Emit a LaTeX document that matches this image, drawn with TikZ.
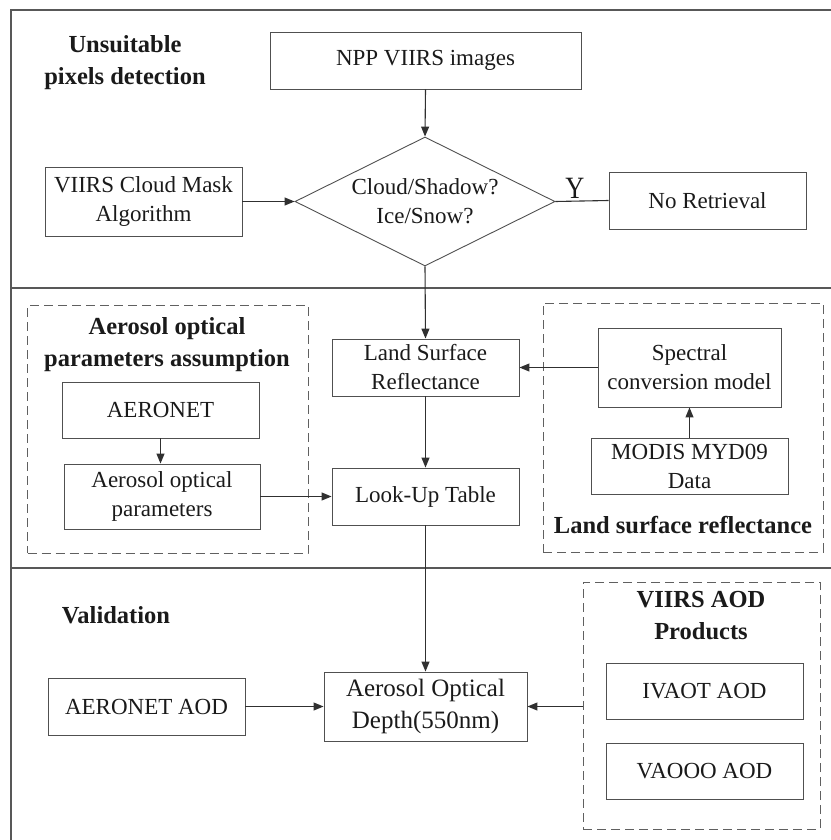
\documentclass[tikz,border=0pt]{standalone}
\usepackage{fontspec}
\setmainfont{Liberation Serif}
\usetikzlibrary{shapes.geometric,arrows.meta}
\definecolor{boxc}{HTML}{505050}
\definecolor{grpc}{HTML}{606060}
\definecolor{linec}{HTML}{303030}
\definecolor{sepc}{HTML}{585858}
\definecolor{txtc}{HTML}{1A1A1A}
\begin{document}
\begin{tikzpicture}[x=1pt,y=-1pt,
  box/.style={draw=boxc, line width=0.9pt, inner sep=0pt, align=center, text=txtc, font=\fontsize{23}{29}\selectfont},
  grp/.style={draw=grpc, line width=0.9pt, dash pattern=on 9pt off 5pt, inner sep=0pt},
  ttl/.style={font=\fontsize{24.5}{32}\selectfont\bfseries, align=center, inner sep=0pt, text=txtc},
  arr/.style={draw=linec, line width=1.1pt, -{Triangle[length=10pt,width=8pt]}},
  ln/.style={draw=linec, line width=1.1pt},
  sepline/.style={draw=sepc, line width=1.3pt}]
\useasboundingbox (0,0) rectangle (830,840);

% frame and section separators
\draw[sepline] (832,10) -- (11,10) -- (11,842);
\draw[sepline] (11,288) -- (832,288);
\draw[sepline] (11,568) -- (832,568);

% section 1
\node[ttl] (t1) at (125,63) {Unsuitable\\pixels detection};
\node[box, minimum width=311pt, minimum height=57pt] (npp) at (425.5,60.5) {NPP VIIRS images};
\node[diamond, draw=boxc, line width=0.9pt, inner sep=0pt, aspect=2, minimum width=260pt, minimum height=129pt, align=center, text=txtc, font=\fontsize{23}{29}\selectfont] (dia) at (425,201.5) {Cloud/Shadow?\\Ice/Snow?};
\node[box, minimum width=197pt, minimum height=69pt] (cm) at (143.5,201.5) {VIIRS Cloud Mask\\Algorithm};
\node[box, minimum width=197pt, minimum height=57pt] (noret) at (707.5,200.5) {No Retrieval};
\node[font=\fontsize{31}{31}\selectfont, inner sep=0pt, anchor=base, text=txtc, xscale=0.85] (ylab) at (575,198) {Y};

% section 2
\node[grp, minimum width=280.5pt, minimum height=248pt] (gaer) at (167.75,429) {};
\node[grp, minimum width=280pt, minimum height=249pt] (glsr) at (683,427.5) {};
\node[ttl] (t2) at (167,345) {Aerosol optical\\parameters assumption};
\node[ttl, anchor=base] (t3) at (683,533) {Land surface reflectance};
\node[box, minimum width=197pt, minimum height=56pt] (aeronet) at (160.5,410) {AERONET};
\node[box, minimum width=196pt, minimum height=65pt] (aop) at (162,496.5) {Aerosol optical\\parameters};
\node[box, minimum width=187pt, minimum height=57pt] (lsr) at (425.5,367.5) {Land Surface\\Reflectance};
\node[box, minimum width=187pt, minimum height=57pt] (lut) at (425.5,496.5) {Look-Up Table};
\node[box, minimum width=183pt, minimum height=79pt] (spec) at (689.5,367.5) {Spectral\\conversion model};
\node[box, minimum width=197pt, minimum height=56pt] (modis) at (689.5,466) {MODIS MYD09\\Data};

% section 3
\node[ttl, anchor=base] (t5) at (116,623) {Validation};
\node[grp, minimum width=237pt, minimum height=247pt] (gviirs) at (701.5,705.5) {};
\node[ttl] (t4) at (701,616) {VIIRS AOD\\Products};
\node[box, minimum width=203pt, minimum height=69pt, font=\fontsize{25}{32}\selectfont] (aod) at (425.5,706.5) {Aerosol Optical\\Depth(550nm)};
\node[box, minimum width=197pt, minimum height=57pt] (aaod) at (146.5,706.5) {AERONET AOD};
\node[box, minimum width=197pt, minimum height=56pt] (ivaot) at (704.5,691) {IVAOT AOD};
\node[box, minimum width=197pt, minimum height=56pt] (vaooo) at (704.5,771) {VAOOO AOD};

% connectors
\draw[arr] (npp.south) -- (dia.north);
\draw[arr] (cm.east) -- (dia.west);
\draw[ln] (dia.east) -- (noret.west);
\draw[arr] (dia.south) -- (lsr.north);
\draw[arr] (lsr.south) -- (lut.north);
\draw[arr] (spec.west) -- (lsr.east);
\draw[arr] (modis.north) -- (spec.south);
\draw[arr] (aeronet.south) -- (aeronet.south |- aop.north);
\draw[arr] (aop.east) -- (lut.west);
\draw[arr] (lut.south) -- (aod.north);
\draw[arr] (aaod.east) -- (aod.west);
\draw[arr] (aod.east -| gviirs.west) -- (aod.east);
\end{tikzpicture}
\end{document}
